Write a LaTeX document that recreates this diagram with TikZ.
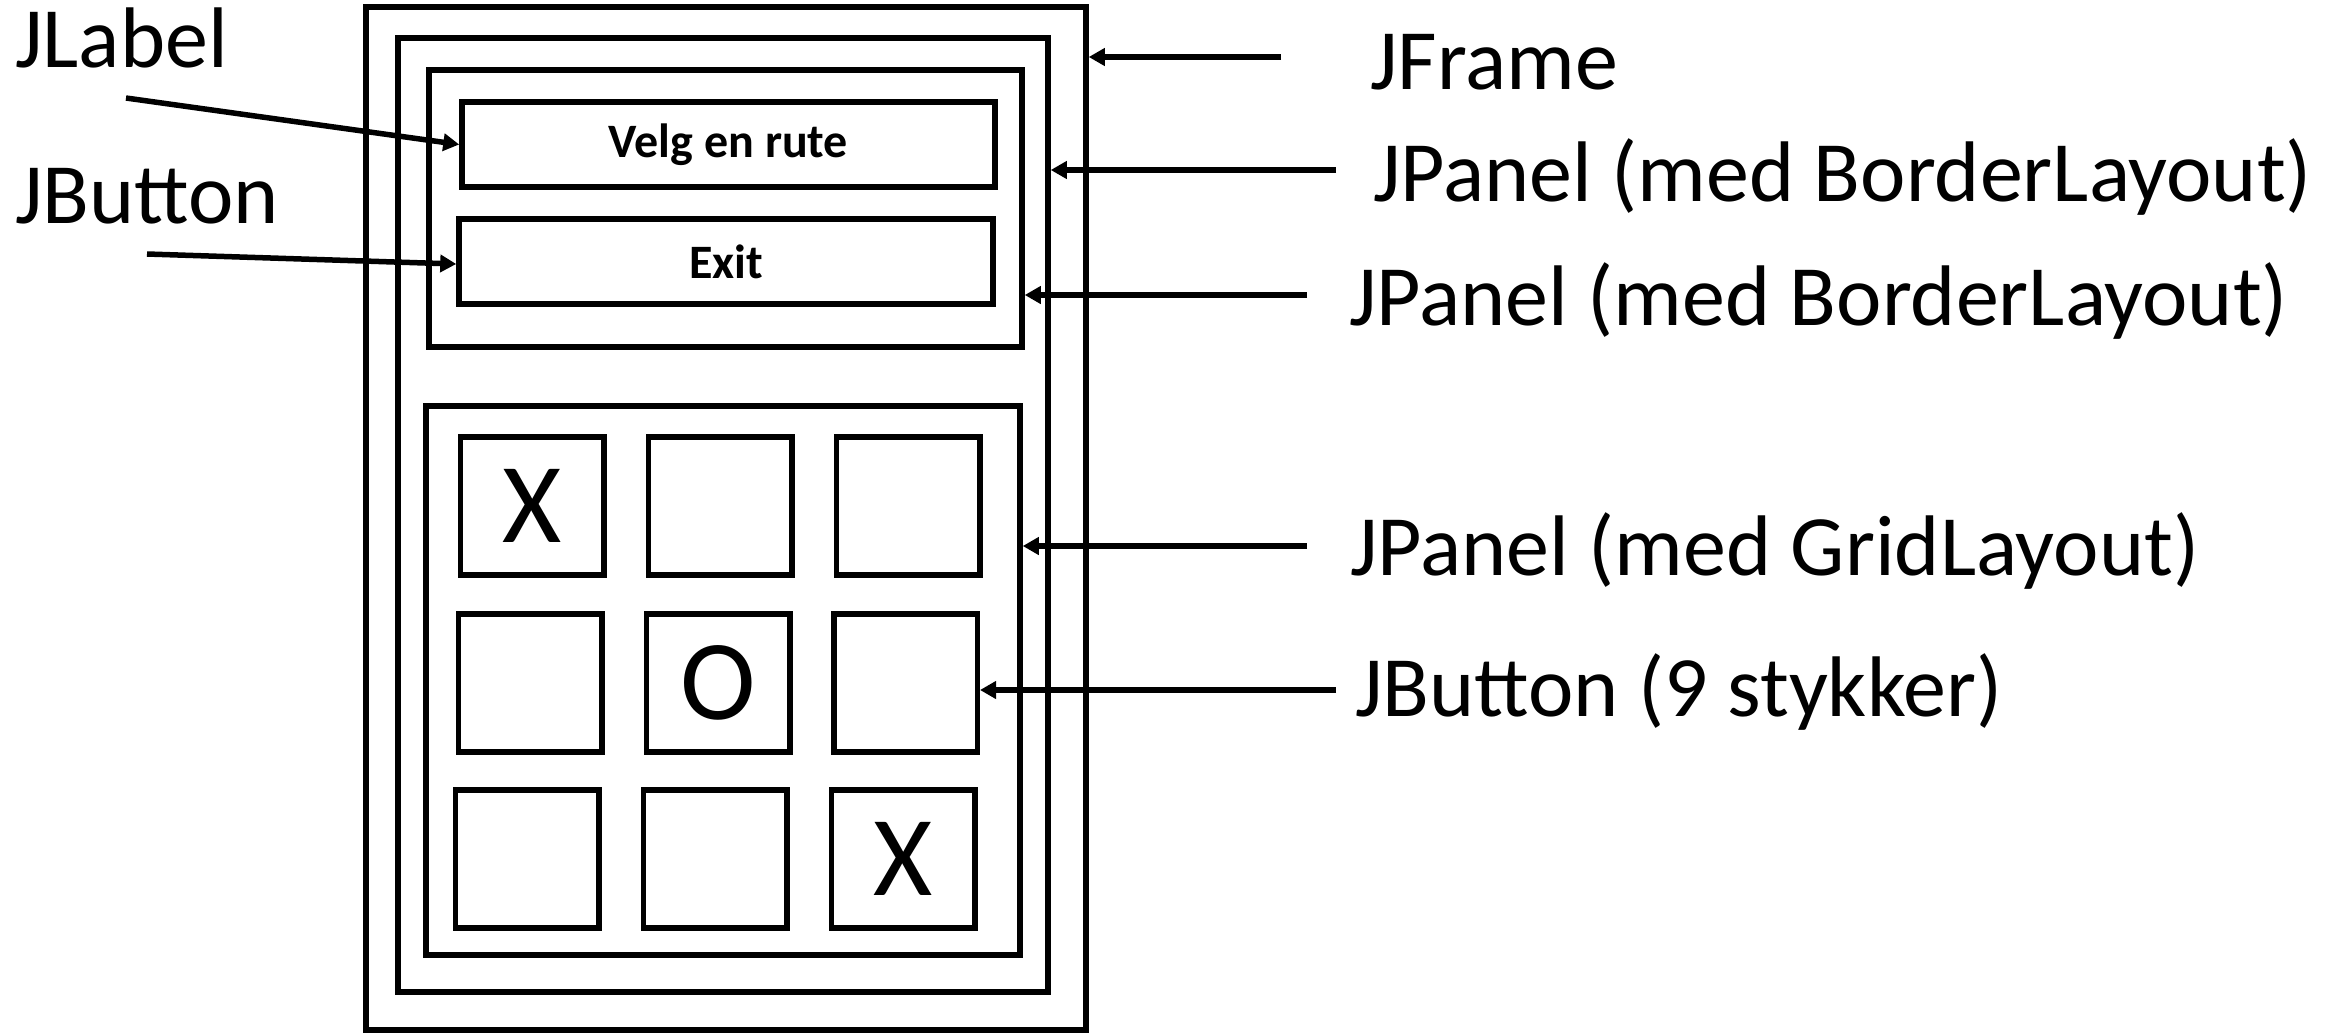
\documentclass[tikz,border=0pt]{standalone}
\usepackage{fontspec}
\setmainfont{Carlito}
\usetikzlibrary{arrows.meta}
\begin{document}
\begin{tikzpicture}[x=0.5pt,y=-0.5pt,
  frm/.style={draw, line width=2.75pt, inner sep=0pt, fill=none},
  cell/.style={frm, minimum width=71.75pt, minimum height=69pt, font=\fontsize{57}{60}\selectfont},
  btn/.style={frm, minimum height=42.5pt, font=\bfseries\fontsize{24}{28}\selectfont},
  lbl/.style={inner sep=0pt, anchor=base west, font=\fontsize{43}{48}\selectfont},
  arr/.style={line width=2.75pt, -{Triangle[length=8pt,width=8.5pt]}}]
\useasboundingbox (0,0) rectangle (2335,1034);

% window and nested panels
\node[frm, minimum width=360pt, minimum height=511.5pt] (frame) at (726,518.5) {};
\node[frm, minimum width=325pt, minimum height=477pt] (outerpanel) at (723,515) {};
\node[frm, minimum width=296.5pt, minimum height=138.5pt] (toppanel) at (725.5,208.5) {};
\node[btn, minimum width=266.5pt] (velg) at (728.5,144.5) {Velg en rute};
\node[btn, minimum width=267pt] (exit) at (726,261.5) {Exit};
\node[frm, minimum width=297pt, minimum height=274.5pt] (grid) at (723,680.5) {};

% 3x3 board
\node[cell] (c11) at (532,506) {X};
\node[cell] (c12) at (720,506) {};
\node[cell] (c13) at (908,506) {};
\node[cell] (c21) at (530,683) {};
\node[cell] (c22) at (718,683) {O};
\node[cell] (c23) at (905.5,683) {};
\node[cell] (c31) at (527,859) {};
\node[cell] (c32) at (715,859) {};
\node[cell] (c33) at (903,859) {X};

% labels
\node[lbl] (tframe) at (1370,89) {JFrame};
\node[lbl] (tpanel1) at (1373,201) {JPanel (med BorderLayout)};
\node[lbl] (tpanel2) at (1349,325) {JPanel (med BorderLayout)};
\node[lbl] (tgrid) at (1350,575) {JPanel (med GridLayout)};
\node[lbl] (tbtn9) at (1355,716) {JButton (9 stykker)};
\node[lbl] (tlabel) at (15,67) {JLabel};
\node[lbl] (tbtn) at (15,223) {JButton};

% arrow tails
\coordinate (aframe) at (1281,57);
\coordinate (apanel1) at (1336,170);
\coordinate (apanel2) at (1307,295);
\coordinate (agrid) at (1307,546);
\coordinate (abtn9) at (1336,690);
\coordinate (alabel) at (126,98);
\coordinate (abtn) at (147,254);

% arrows
\draw[arr] (aframe) -- (aframe -| frame.east);
\draw[arr] (apanel1) -- (apanel1 -| outerpanel.east);
\draw[arr] (apanel2) -- (apanel2 -| toppanel.east);
\draw[arr] (agrid) -- (agrid -| grid.east);
\draw[arr] (abtn9) -- (abtn9 -| c23.east);
\draw[arr] (alabel) -- (velg.west);
\draw[arr] (abtn) -- ([yshift=-1.25pt]exit.west);
\end{tikzpicture}
\end{document}
